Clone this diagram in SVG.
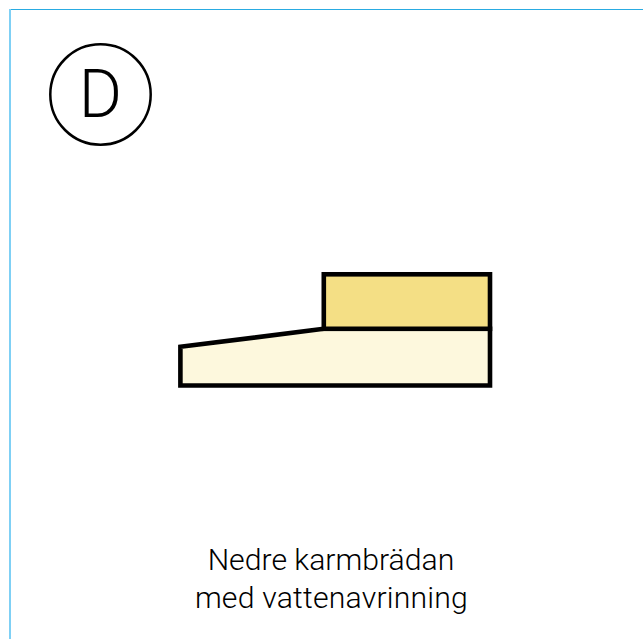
<svg xmlns="http://www.w3.org/2000/svg" width="643" height="639" viewBox="0 0 643 639">
<style>
.o{stroke:#000;stroke-width:4.6;stroke-linejoin:miter}
.t{font-family:"Roboto","Liberation Sans",sans-serif;font-weight:300;fill:#000;text-anchor:middle}
</style>
<rect width="643" height="639" fill="#fff"/>
<g id="frame">
<rect x="9" y="9" width="634" height="1" fill="#29abe2"/>
<rect x="9" y="9" width="2" height="630" fill="#7fd0f5"/>
</g>
<g id="badge">
<circle cx="100.5" cy="94.5" r="50.2" fill="#fff" stroke="#000" stroke-width="2.5"/>
<text class="t" x="100.3" y="117" font-size="66">D</text>
</g>
<g id="sill">
<path class="o" d="M180.4 346.8L323.8 328.8H490V385.5H180.4Z" fill="#fdf8dd"/>
</g>
<g id="board">
<rect class="o" x="323.8" y="274.3" width="166.2" height="54.5" fill="#f4df85"/>
</g>
<g id="label">
<text class="t" x="331" y="570" font-size="30.2">Nedre karmbrädan</text>
<text class="t" x="331.5" y="608" font-size="30.2" letter-spacing="0.2">med vattenavrinning</text>
</g>
</svg>
